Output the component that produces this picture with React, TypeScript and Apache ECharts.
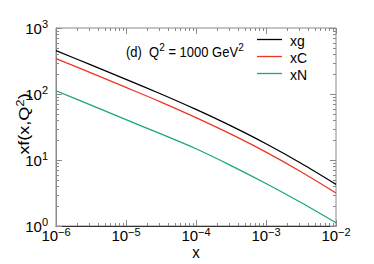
import React, { useEffect, useRef } from "react";
import * as echarts from "echarts";

const xValues = [1e-6, 3.16e-6, 1e-5, 3.16e-5, 1e-4, 3.16e-4, 1e-3, 3.16e-3, 1e-2];
const xg = [453, 276, 167, 100, 58.3, 32.8, 17.6, 8.93, 4.28];
const xC = [343, 209, 126, 75.5, 43.9, 24.6, 13.15, 6.64, 3.16];
const xN = [112, 67.9, 40.9, 24.8, 14.8, 8.24, 4.41, 2.27, 1.12];
const seriesNames = ["xg", "xC", "xN"];
const seriesColors = ["#000000", "#ee3524", "#1aa67f"];
const xDecades = [-6, -5, -4, -3, -2];
const yDecades = [0, 1, 2, 3];

const FONT = "'Liberation Sans', Arial, Helvetica, sans-serif";

function supLabel(v: number) {
  const e = Math.round(Math.log10(v));
  const s = e < 0 ? "\u2212" + Math.abs(e) : String(e);
  return `{b|10}{s|${s}}`;
}

const labelRich = {
  b: { fontSize: 15, lineHeight: 15, verticalAlign: "bottom", fontFamily: FONT, color: "#000" },
  s: { fontSize: 11, lineHeight: 11, verticalAlign: "bottom", padding: [0, 0, 6, 0], fontFamily: FONT, color: "#000" },
};

export default function App() {
  const ref = useRef<HTMLDivElement>(null);
  useEffect(() => {
    if (!ref.current) return;
    const chart = echarts.init(ref.current, undefined, { renderer: "svg" });

    const ticks: any[] = [];
    xDecades.forEach((d, i) => {
      ticks.push([Math.pow(10, d), 10, 0, 1]);
      if (i < xDecades.length - 1)
        for (let m = 2; m <= 9; m++) ticks.push([m * Math.pow(10, d), 10, 0, 0]);
    });
    yDecades.forEach((d, i) => {
      ticks.push([1e-4, Math.pow(10, d), 1, 1]);
      if (i < yDecades.length - 1)
        for (let m = 2; m <= 9; m++) ticks.push([1e-4, m * Math.pow(10, d), 1, 0]);
    });

    const dataSeries = [xg, xC, xN].map((arr, k) => ({
      name: seriesNames[k],
      type: "line",
      data: xValues.map((x, i) => [x, arr[i]]),
      symbol: "none",
      smooth: 0.3,
      lineStyle: { color: seriesColors[k], width: 1.3 },
      itemStyle: { color: seriesColors[k] },
    }));

    const legendGraphics: any[] = [];
    seriesNames.forEach((name, k) => {
      const y = 39.5 + k * 17;
      legendGraphics.push({
        type: "line",
        shape: { x1: 257, y1: y, x2: 282, y2: y },
        style: { stroke: seriesColors[k], lineWidth: 1.3 },
      });
      legendGraphics.push({
        type: "text",
        x: 290,
        y: y + 1,
        style: {
          text: name,
          fontSize: 14,
          fontFamily: FONT,
          fill: "#000",
          align: "left",
          verticalAlign: "middle",
        },
      });
    });

    chart.setOption({
      animation: false,
      grid: {
        left: 56,
        top: 28,
        width: 280,
        height: 198,
        show: true,
        borderColor: "#8a8a8a",
        borderWidth: 1,
      },
      xAxis: {
        type: "log",
        logBase: 10,
        min: 1e-6,
        max: 1e-2,
        axisLine: { show: true, lineStyle: { color: "#333", width: 1 } },
        axisTick: { show: false },
        splitLine: { show: false },
        axisLabel: { formatter: supLabel, rich: labelRich, margin: 2 },
      },
      yAxis: {
        type: "log",
        logBase: 10,
        min: 1,
        max: 1000,
        axisLine: { show: true, lineStyle: { color: "#8a8a8a", width: 1 } },
        axisTick: { show: false },
        splitLine: { show: false },
        axisLabel: { formatter: supLabel, rich: labelRich, margin: 8 },
      },
      graphic: [
        ...legendGraphics,
        {
          type: "text",
          x: 126,
          y: 52,
          scaleY: 1.15,
          style: {
            text: "{a|(d)  Q}{s|2}{a| = 1000 GeV}{s|2}",
            verticalAlign: "middle",
            rich: {
              a: { fontSize: 13, lineHeight: 13, verticalAlign: "bottom", fontFamily: FONT, fill: "#000", color: "#000" },
              s: { fontSize: 10, lineHeight: 10, verticalAlign: "bottom", padding: [0, 0, 6, 0], fontFamily: FONT, fill: "#000", color: "#000" },
            },
          },
        },
        {
          type: "text",
          x: 24,
          y: 124,
          rotation: Math.PI / 2,
          scaleX: 1.2,
          style: {
            text: "{a|xf(x,Q}{s|2}{a|)}",
            align: "center",
            verticalAlign: "middle",
            rich: {
              a: { fontSize: 15, lineHeight: 15, verticalAlign: "bottom", fontFamily: FONT, fill: "#000", color: "#000" },
              s: { fontSize: 11, lineHeight: 11, verticalAlign: "bottom", padding: [0, 0, 6, 0], fontFamily: FONT, fill: "#000", color: "#000" },
            },
          },
        },
        {
          type: "text",
          x: 196,
          y: 252,
          scaleY: 1.15,
          style: {
            text: "x",
            align: "center",
            verticalAlign: "middle",
            fontSize: 15,
            fontFamily: FONT,
            fill: "#000",
          },
        },
      ],
      series: [
        ...dataSeries,
        {
          type: "custom",
          silent: true,
          clip: false,
          data: ticks,
          encode: { x: 0, y: 1 },
          renderItem: (params: any, api: any) => {
            const cs = params.coordSys;
            const axis = api.value(2);
            const major = api.value(3);
            const len = major ? 6 : 3;
            const p = api.coord([api.value(0), api.value(1)]);
            const style = { stroke: "#8a8a8a", lineWidth: 1 };
            if (axis === 0) {
              const x = Math.round(p[0]) + 0.5;
              const yb = cs.y + cs.height;
              const yt = cs.y;
              return {
                type: "group",
                children: [
                  { type: "line", shape: { x1: x, y1: yb, x2: x, y2: yb - len }, style },
                  { type: "line", shape: { x1: x, y1: yt, x2: x, y2: yt + len }, style },
                ],
              };
            }
            const y = Math.round(p[1]) + 0.5;
            const xl = cs.x;
            const xr = cs.x + cs.width;
            return {
              type: "group",
              children: [
                { type: "line", shape: { x1: xl, y1: y, x2: xl + len, y2: y }, style },
                { type: "line", shape: { x1: xr, y1: y, x2: xr - len, y2: y }, style },
              ],
            };
          },
        },
      ],
    });
    return () => chart.dispose();
  }, []);
  return (
    <div
      ref={ref}
      style={{ position: "absolute", left: 0, top: 0, width: 374, height: 264, background: "#fff" }}
    />
  );
}
